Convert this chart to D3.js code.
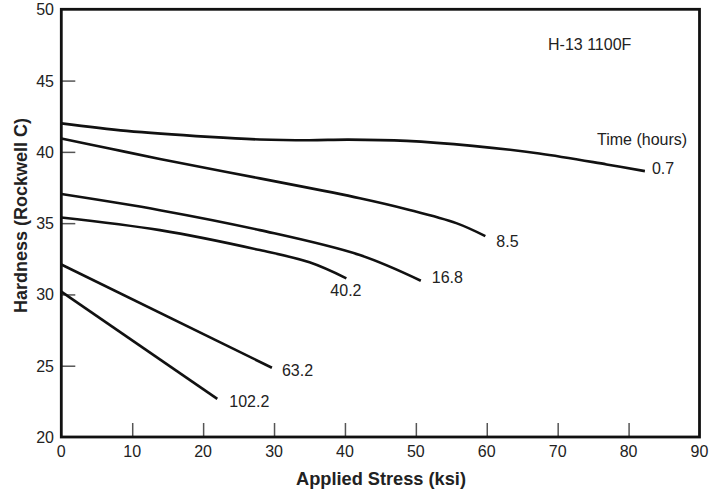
<!DOCTYPE html>
<html>
<head>
<meta charset="utf-8">
<script src="https://cdn.jsdelivr.net/npm/d3@7"></script>
<style>
  body { margin: 0; background: #fff; }
  svg text { font-family: "Liberation Sans", Arial, sans-serif; fill: #222; }
</style>
</head>
<body>
<div id="chart"></div>
<script>
// hardness vs applied stress, one curve per exposure time
var times = ["0.7", "8.5", "16.8", "40.2", "63.2", "102.2"];

var stress07 = [0, 9.2, 20.9, 28, 35, 40.5, 48.7, 58, 67.4, 76.9, 82.3];
var hard07   = [42.0, 41.47, 41.05, 40.87, 40.82, 40.86, 40.77, 40.42, 39.89, 39.12, 38.65];

var stress85 = [0, 6.8, 13.9, 28, 42.1, 48.7, 55.7, 59.8];
var hard85   = [40.94, 40.24, 39.5, 38.14, 36.75, 35.98, 35.0, 34.09];

var stress168 = [0, 13.9, 28, 42.1, 50.7];
var hard168   = [37.04, 35.91, 34.51, 32.76, 30.96];

var stress402 = [0, 13.9, 28, 35, 40.2];
var hard402   = [35.4, 34.51, 33.11, 32.25, 31.13];

var stress632 = [0, 29.7];
var hard632   = [32.1, 24.86];

var stress1022 = [0, 22.0];
var hard1022   = [30.2, 22.67];

var xTicks = [0, 10, 20, 30, 40, 50, 60, 70, 80, 90];
var yTicks = [20, 25, 30, 35, 40, 45, 50];

var series = [
  {t: times[0], xs: stress07,   ys: hard07,   dx: 7,   dy: 3},
  {t: times[1], xs: stress85,   ys: hard85,   dx: 11,  dy: 11},
  {t: times[2], xs: stress168,  ys: hard168,  dx: 11,  dy: 2},
  {t: times[3], xs: stress402,  ys: hard402,  dx: -16, dy: 18},
  {t: times[4], xs: stress632,  ys: hard632,  dx: 10,  dy: 8},
  {t: times[5], xs: stress1022, ys: hard1022, dx: 12,  dy: 8}
];

var W = 710, H = 492;
var plotL = 61.3, plotR = 699.5, plotT = 9.3, plotB = 437;

var svg = d3.select("#chart").append("svg")
  .attr("width", W)
  .attr("height", H);

var x = d3.scaleLinear().domain([0, 90]).range([plotL, plotR]);
var y = d3.scaleLinear().domain([20, 50]).range([plotB, plotT]);

// inside ticks, no tick at the frame corners
svg.append("g")
  .attr("transform", "translate(0," + plotB + ")")
  .call(d3.axisBottom(x).tickValues(xTicks.slice(1, -1)).tickSize(-14).tickFormat(""))
  .call(function(g) {
    g.select(".domain").remove();
    g.selectAll("line").attr("stroke", "#555").attr("stroke-width", 1.5);
  });

svg.append("g")
  .attr("transform", "translate(" + plotL + ",0)")
  .call(d3.axisLeft(y).tickValues(yTicks.slice(1, -1)).tickSize(-14).tickFormat(""))
  .call(function(g) {
    g.select(".domain").remove();
    g.selectAll("line").attr("stroke", "#555").attr("stroke-width", 1.5);
  });

// tick labels
svg.append("g").selectAll("text")
  .data(xTicks)
  .enter().append("text")
  .attr("x", function(d) { return x(d); })
  .attr("y", 457)
  .attr("text-anchor", "middle")
  .style("font-size", "16px")
  .text(function(d) { return d; });

svg.append("g").selectAll("text")
  .data(yTicks)
  .enter().append("text")
  .attr("x", 54)
  .attr("y", function(d) { return y(d) + 6; })
  .attr("text-anchor", "end")
  .style("font-size", "16px")
  .text(function(d) { return d; });

// frame
svg.append("rect")
  .attr("x", plotL).attr("y", plotT)
  .attr("width", plotR - plotL).attr("height", plotB - plotT)
  .attr("fill", "none")
  .attr("stroke", "#111")
  .attr("stroke-width", 2.8);

var line = d3.line()
  .x(function(d) { return x(d[0]); })
  .y(function(d) { return y(d[1]); })
  .curve(d3.curveCatmullRom.alpha(0.5));

series.forEach(function(s) {
  var pts = s.xs.map(function(v, i) { return [v, s.ys[i]]; });
  svg.append("path")
    .attr("d", line(pts))
    .attr("fill", "none")
    .attr("stroke", "#111")
    .attr("stroke-width", 2.6);
  var last = pts[pts.length - 1];
  svg.append("text")
    .attr("x", x(last[0]) + s.dx)
    .attr("y", y(last[1]) + s.dy)
    .style("font-size", "16px")
    .text(s.t);
});

svg.append("text")
  .attr("x", 597).attr("y", 145)
  .style("font-size", "16px")
  .text("Time (hours)");

svg.append("text")
  .attr("x", 548).attr("y", 50)
  .style("font-size", "16px")
  .text("H-13 1100F");

// axis titles
svg.append("text")
  .attr("x", 381).attr("y", 485)
  .attr("text-anchor", "middle")
  .attr("textLength", 170)
  .attr("lengthAdjust", "spacingAndGlyphs")
  .style("font-size", "19px")
  .style("font-weight", "bold")
  .text("Applied Stress (ksi)");

svg.append("text")
  .attr("transform", "translate(27,215.5) rotate(-90)")
  .attr("text-anchor", "middle")
  .attr("textLength", 195)
  .attr("lengthAdjust", "spacingAndGlyphs")
  .style("font-size", "19px")
  .style("font-weight", "bold")
  .text("Hardness (Rockwell C)");
</script>
</body>
</html>
